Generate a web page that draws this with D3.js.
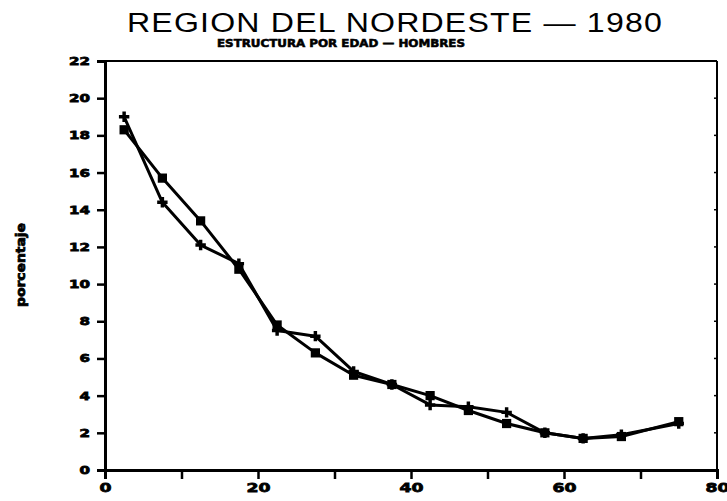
<!DOCTYPE html>
<html>
<head>
<meta charset="utf-8">
<script src="https://cdn.jsdelivr.net/npm/d3@7"></script>
<style>
  body { margin: 0; background: #fff; }
  svg text { fill: #000; }
</style>
</head>
<body>
<div id="chart"></div>
<script>
// age group midpoints
const edades = [2.5, 7.5, 12.5, 17.5, 22.5, 27.5, 32.5, 37.5, 42.5, 47.5, 52.5, 57.5, 62.5, 67.5, 75];
// series with square markers
const serieCuadro = [18.3, 15.7, 13.4, 10.8, 7.8, 6.3, 5.1, 4.6, 4.0, 3.2, 2.5, 2.0, 1.7, 1.8, 2.6];
// series with cross markers
const serieCruz = [19.0, 14.4, 12.1, 11.1, 7.5, 7.2, 5.3, 4.6, 3.5, 3.4, 3.1, 2.0, 1.7, 1.9, 2.5];
const xTicks = [0, 10, 20, 30, 40, 50, 60, 70, 80];
const yTicks = [0, 2, 4, 6, 8, 10, 12, 14, 16, 18, 20, 22];

const W = 727, H = 501;
const margin = { top: 61, right: 10, bottom: 31, left: 105 },
      width = W - margin.left - margin.right,
      height = H - margin.top - margin.bottom;

const svg = d3.select("#chart").append("svg")
    .attr("width", W)
    .attr("height", H);

const g = svg.append("g")
    .attr("transform", `translate(${margin.left},${margin.top})`);

const x = d3.scaleLinear().domain([0, 80]).range([0, width]);
const y = d3.scaleLinear().domain([0, 22]).range([height, 0]);

// frame: top and right thinner
g.append("line").attr("x1", 0).attr("x2", width).attr("y1", 0).attr("y2", 0)
    .attr("stroke", "#000").attr("stroke-width", 2);
g.append("line").attr("x1", width).attr("x2", width).attr("y1", 0).attr("y2", height)
    .attr("stroke", "#000").attr("stroke-width", 2);

// right side small inner ticks
g.selectAll(".rtick").data(yTicks).enter().append("line")
    .attr("x1", width - 3).attr("x2", width)
    .attr("y1", d => y(d)).attr("y2", d => y(d))
    .attr("stroke", "#000").attr("stroke-width", 1.5);

// wide, heavy tick numbers like the old plotter font
const tickFont = (sel, size, per) => sel.selectAll("text")
    .style("font-family", "'DejaVu Sans', sans-serif")
    .style("font-weight", "900")
    .style("font-size", size + "px")
    .attr("stroke", "#000").attr("stroke-width", 0.8)
    .each(function() {
        const t = d3.select(this).text();
        if (t.length) d3.select(this).attr("textLength", per * t.length).attr("lengthAdjust", "spacingAndGlyphs");
    });

// x axis
const xAxis = g.append("g")
    .attr("transform", `translate(0,${height})`)
    .call(d3.axisBottom(x).tickValues(xTicks).tickSize(9).tickPadding(4)
        .tickFormat(d => d % 20 === 0 ? d : ""));
tickFont(xAxis, 13, 12);
xAxis.select(".domain").attr("stroke-width", 3);
xAxis.selectAll(".tick line").attr("stroke-width", 2.5);

// y axis
const yAxis = g.append("g")
    .call(d3.axisLeft(y).tickValues(yTicks).tickSize(8).tickPadding(7));
tickFont(yAxis, 11, 10.5);
yAxis.select(".domain").attr("stroke-width", 3);
yAxis.selectAll(".tick line").attr("stroke-width", 2.5);

// lines
const line = d3.line().x((d, i) => x(edades[i])).y(d => y(d));

[serieCruz, serieCuadro].forEach(s => {
    g.append("path").datum(s)
        .attr("d", line)
        .attr("fill", "none")
        .attr("stroke", "#000")
        .attr("stroke-width", 3)
        .attr("stroke-linejoin", "round");
});

// markers
g.selectAll(".cruz").data(serieCruz).enter().append("path")
    .attr("transform", (d, i) => `translate(${x(edades[i])},${y(d)})`)
    .attr("d", d3.symbol().type(d3.symbolCross).size(60))
    .attr("fill", "#000");

g.selectAll(".cuadro").data(serieCuadro).enter().append("path")
    .attr("transform", (d, i) => `translate(${x(edades[i])},${y(d)})`)
    .attr("d", d3.symbol().type(d3.symbolSquare).size(85))
    .attr("fill", "#000");

// titles
svg.append("text")
    .attr("x", 395).attr("y", 32)
    .attr("text-anchor", "middle")
    .style("font-family", "'Liberation Sans', sans-serif")
    .style("font-size", "27px")
    .style("letter-spacing", "1px")
    .attr("textLength", 536)
    .attr("lengthAdjust", "spacingAndGlyphs")
    .text("REGION DEL NORDESTE — 1980");

svg.append("text")
    .attr("x", 341).attr("y", 47)
    .attr("text-anchor", "middle")
    .style("font-family", "'DejaVu Sans', sans-serif")
    .style("font-weight", "900")
    .style("font-size", "11px")
    .attr("stroke", "#000").attr("stroke-width", 0.6)
    .attr("textLength", 248)
    .attr("lengthAdjust", "spacingAndGlyphs")
    .text("ESTRUCTURA POR EDAD — HOMBRES");

svg.append("text")
    .attr("transform", "translate(25,265) rotate(-90)")
    .attr("text-anchor", "middle")
    .style("font-family", "'DejaVu Sans', sans-serif")
    .style("font-weight", "900")
    .style("font-size", "12px")
    .attr("stroke", "#000").attr("stroke-width", 0.8)
    .attr("textLength", 84)
    .attr("lengthAdjust", "spacingAndGlyphs")
    .text("porcentaje");
</script>
</body>
</html>
